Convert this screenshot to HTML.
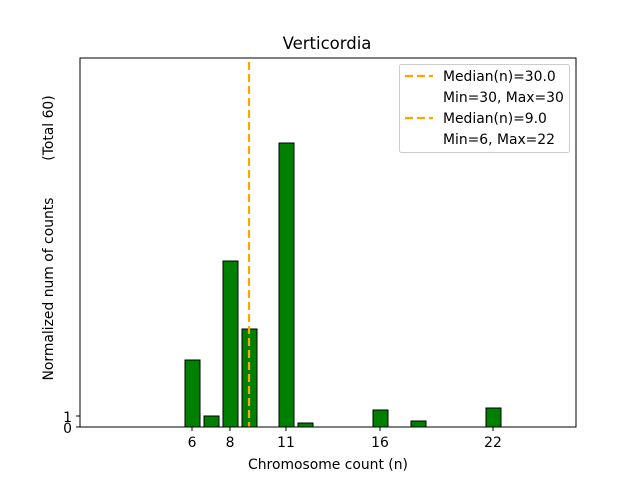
<!DOCTYPE html>
<html><head><style>body{margin:0;background:#fff}</style></head><body>
<svg width="640" height="480" xmlns="http://www.w3.org/2000/svg" font-family="DejaVu Sans, Liberation Sans, sans-serif">
<rect width="640" height="480" fill="#fff"/>
<text x="327" y="49" font-size="16.5" text-anchor="middle">Verticordia</text>
<g fill="green" stroke="#000" stroke-width="1">
<rect x="185" y="360" width="15" height="67"/>
<rect x="204" y="416" width="15" height="11"/>
<rect x="223" y="261" width="15" height="166"/>
<rect x="242" y="329" width="15" height="98"/>
<rect x="279" y="143" width="15" height="284"/>
<rect x="298" y="423" width="15" height="4"/>
<rect x="373" y="410" width="15" height="17"/>
<rect x="411" y="421" width="15" height="6"/>
<rect x="486" y="408" width="15" height="19"/>
</g>
<line x1="249" y1="62" x2="249" y2="427" stroke="orange" stroke-width="2.2" stroke-dasharray="8,4"/>
<rect x="80" y="58" width="496" height="369" fill="none" stroke="#000" stroke-width="1"/>
<g stroke="#000"><line x1="76" y1="427" x2="80" y2="427"/><line x1="76" y1="416" x2="80" y2="416"/>
<line x1="192" y1="427" x2="192" y2="431"/><line x1="230" y1="427" x2="230" y2="431"/><line x1="286" y1="427" x2="286" y2="431"/><line x1="380" y1="427" x2="380" y2="431"/><line x1="493" y1="427" x2="493" y2="431"/></g>
<g font-size="13.9" text-anchor="end"><text x="72" y="433">0</text><text x="72" y="422">1</text></g>
<g font-size="13.9" text-anchor="middle"><text x="192" y="447">6</text><text x="230" y="447">8</text><text x="286" y="447">11</text><text x="380" y="447">16</text><text x="493" y="447">22</text>
<text x="328" y="469">Chromosome count (n)</text></g>
<text transform="translate(53,289) rotate(-90)" font-size="13.9" text-anchor="middle">Normalized num of counts</text>
<text transform="translate(53,128) rotate(-90)" font-size="13.9" text-anchor="middle">(Total 60)</text>
<rect x="399.5" y="64.5" width="170" height="88" rx="2" fill="#fff" stroke="#ccc"/>
<g stroke="orange" stroke-width="2.2" stroke-dasharray="8,4"><line x1="405" y1="76" x2="433" y2="76"/><line x1="405" y1="118" x2="433" y2="118"/></g>
<g font-size="13.9"><text x="443" y="81">Median(n)=30.0</text><text x="443" y="102">Min=30, Max=30</text><text x="443" y="123">Median(n)=9.0</text><text x="443" y="144">Min=6, Max=22</text></g>
</svg>
</body></html>
